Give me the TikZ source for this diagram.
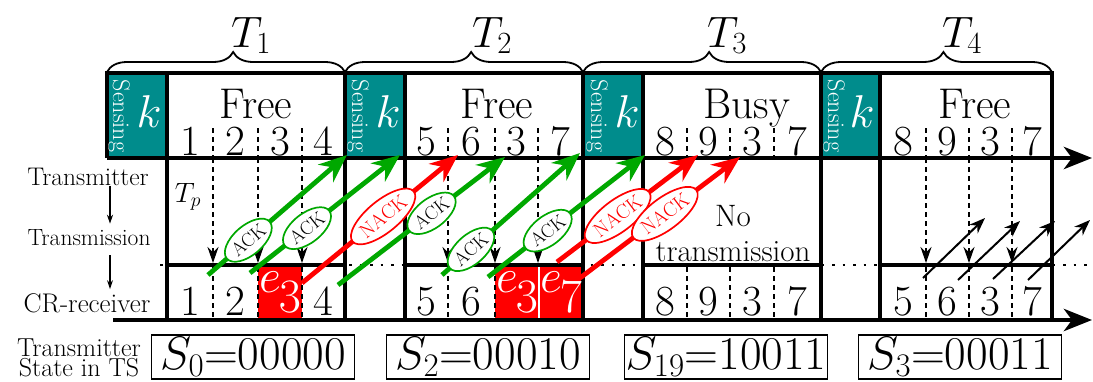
\RequirePackage{fix-cm}
\documentclass[tikz,border=0pt]{standalone}
\usepackage{fontspec}
\usetikzlibrary{arrows.meta,decorations.pathreplacing,shapes.geometric}

\definecolor{senseteal}{RGB}{0,140,140}
\definecolor{ackgreen}{RGB}{0,168,0}
\definecolor{nackred}{RGB}{255,0,0}

\newcommand{\fsz}[1]{\fontsize{#1}{#1}\selectfont}

\tikzset{
  ts-frame/.style={line width=4.5pt, draw=black},
  ts-axis/.style={-{Stealth[length=28pt, width=22pt, inset=8pt]}, line width=4.8pt},
  ts-sense/.style={fill=senseteal, draw=none},
  ts-err/.style={fill=nackred, draw=none},
  ts-sep/.style={dash pattern=on 5pt off 4pt, line width=1.8pt},
  ts-drop/.style={ts-sep, -{Stealth[length=16pt, width=11pt]}},
  ts-dots/.style={dash pattern=on 2.5pt off 8pt, line width=2pt},
  ts-ack/.style={-{Stealth[length=28pt, width=23pt]}, line width=4.8pt, draw=ackgreen},
  ts-nack/.style={-{Stealth[length=28pt, width=23pt]}, line width=4.8pt, draw=nackred},
  ts-fb/.style={-{Stealth[length=16pt, width=12pt]}, line width=2pt},
  ts-acklbl/.style={ellipse, draw=ackgreen, fill=white, line width=1.7pt, inner xsep=0.5pt, inner ysep=3.5pt, font=\fsz{19}, sloped},
  ts-nacklbl/.style={ellipse, draw=nackred, fill=white, text=nackred, line width=1.7pt, inner xsep=0.5pt, inner ysep=4pt, font=\fsz{20}, sloped},
  ts-num/.style={font=\fsz{43}, inner sep=0pt, anchor=base},
  ts-errtxt/.style={text=white, font=\fsz{48}, inner sep=0pt, anchor=base},
  ts-period/.style={font=\fsz{44}, inner sep=0pt, anchor=base},
  ts-state/.style={font=\fsz{47}, rectangle, draw, line width=1.8pt, minimum width=203pt, minimum height=44pt, inner sep=0pt},
  ts-sensetxt/.style={text=white, rotate=-90, font=\fsz{24}, inner sep=0pt},
  ts-k/.style={text=white, font=\fsz{46}, inner sep=0pt, anchor=base},
  ts-side/.style={inner sep=0pt},
  ts-side-arrow/.style={-{Stealth[length=9pt, width=6pt]}, line width=1.3pt},
  ts-brace/.style={decorate, decoration={brace, amplitude=20pt, aspect=0.53}, line width=1.8pt},
}

\newcommand{\errslot}[1]{$e\kern-2pt\raisebox{-0.42em}{$#1$}$}

\begin{document}
\begin{tikzpicture}[x=1pt, y=-1pt]
    \useasboundingbox (0,0) rectangle (1093,381);

    % Fills: sensing parts and erroneous slots
    \fill[ts-sense] (107,73) rectangle (167,158);
    \fill[ts-sense] (345,73) rectangle (405,158);
    \fill[ts-sense] (583,73) rectangle (643,158);
    \fill[ts-sense] (821,73) rectangle (880,158);
    \fill[ts-err] (258,265) rectangle (302,320);
    \fill[ts-err] (495,265) rectangle (538,320);
    \fill[ts-err] (540,265) rectangle (583,320);

    % Receiver level (dotted through the sensing parts)
    \draw[ts-dots] (160,265) -- (1090,265);

    % Slot separators: top row and receiver row
    \draw[ts-sep] (213,128) -- (213,156) (258,128) -- (258,156) (302,128) -- (302,156);
    \draw[ts-sep] (448,128) -- (448,156) (495,128) -- (495,156) (538,128) -- (538,156);
    \draw[ts-sep] (687,128) -- (687,156) (730,128) -- (730,156) (774,128) -- (774,156);
    \draw[ts-sep] (926,128) -- (926,156) (969,128) -- (969,156) (1012,128) -- (1012,156);
    \draw[ts-sep] (213,267) -- (213,318) (258,267) -- (258,318) (302,267) -- (302,318);
    \draw[ts-sep] (448,267) -- (448,318) (495,267) -- (495,318);
    \draw[ts-sep] (687,267) -- (687,318) (730,267) -- (730,318) (774,267) -- (774,318);
    \draw[ts-sep] (926,267) -- (926,318) (969,267) -- (969,318) (1012,267) -- (1012,318);

    % Dashed drops from transmitter to receiver
    \draw[ts-drop] (213,158) -- (213,263);
    \draw[ts-drop] (258,158) -- (258,263);
    \draw[ts-drop] (302,158) -- (302,263);
    \draw[ts-drop] (448,158) -- (448,263);
    \draw[ts-drop] (495,158) -- (495,263);
    \draw[ts-drop] (538,158) -- (538,263);
    \draw[ts-drop] (926,158) -- (926,263);
    \draw[ts-drop] (969,158) -- (969,263);
    \draw[ts-drop] (1012,158) -- (1012,263);

    % Frame
    \draw[ts-frame] (107,158) -- (107,73) -- (1052,73) -- (1052,320);
    \draw[ts-frame] (167,73) -- (167,320);
    \draw[ts-frame] (345,73) -- (345,320);
    \draw[ts-frame] (405,73) -- (405,320);
    \draw[ts-frame] (583,73) -- (583,320);
    \draw[ts-frame] (643,73) -- (643,320);
    \draw[ts-frame] (821,73) -- (821,320);
    \draw[ts-frame] (880,73) -- (880,320);
    \draw[ts-frame] (167,265) -- (345,265);
    \draw[ts-frame] (405,265) -- (583,265);
    \draw[ts-frame] (643,265) -- (821,265);
    \draw[ts-frame] (880,265) -- (1052,265);

    % Time axes
    \draw[ts-axis] (107,158) -- (1092,158);
    \draw[ts-axis] (113,320) -- (1092,320);

    % Periods
    \draw[ts-brace] (107,72) -- (345,72);
    \draw[ts-brace] (345,72) -- (583,72);
    \draw[ts-brace] (583,72) -- (821,72);
    \draw[ts-brace] (821,72) -- (1052,72);
    \node[ts-period] (per1) at (251,47) {$T_1$};
    \node[ts-period] (per2) at (492,47) {$T_2$};
    \node[ts-period] (per3) at (727,47) {$T_3$};
    \node[ts-period] (per4) at (962,47) {$T_4$};

    % Sensing parts
    \node[ts-sensetxt] (sen1) at (119,116) {Sensing};
    \node[ts-sensetxt] (sen2) at (358,116) {Sensing};
    \node[ts-sensetxt] (sen3) at (597,116) {Sensing};
    \node[ts-sensetxt] (sen4) at (834,116) {Sensing};
    \node[ts-k] (k1) at (149,127) {$k$};
    \node[ts-k] (k2) at (388,127) {$k$};
    \node[ts-k] (k3) at (627,127) {$k$};
    \node[ts-k] (k4) at (862,127) {$k$};

    % Channel state
    \node[ts-num] (st1) at (256,118) {Free};
    \node[ts-num] (st2) at (497,118) {Free};
    \node[ts-num] (st3) at (747,118) {Busy};
    \node[ts-num] (st4) at (975,118) {Free};

    % Transmitted slots
    \node[ts-num] (tx11) at (190,155) {1};
    \node[ts-num] (tx12) at (235,155) {2};
    \node[ts-num] (tx13) at (280,155) {3};
    \node[ts-num] (tx14) at (323,155) {4};
    \node[ts-num] (tx21) at (426,155) {5};
    \node[ts-num] (tx22) at (471,155) {6};
    \node[ts-num] (tx23) at (516,155) {3};
    \node[ts-num] (tx24) at (560,155) {7};
    \node[ts-num] (tx31) at (665,155) {8};
    \node[ts-num] (tx32) at (708,155) {9};
    \node[ts-num] (tx33) at (752,155) {3};
    \node[ts-num] (tx34) at (797,155) {7};
    \node[ts-num] (tx41) at (903,155) {8};
    \node[ts-num] (tx42) at (947,155) {9};
    \node[ts-num] (tx43) at (990,155) {3};
    \node[ts-num] (tx44) at (1032,155) {7};

    % Received slots
    \node[ts-num] (rx11) at (190,315) {1};
    \node[ts-num] (rx12) at (235,315) {2};
    \node[ts-errtxt] (rx13) at (280,292) {\errslot{3}};
    \node[ts-num] (rx14) at (323,315) {4};
    \node[ts-num] (rx21) at (426,315) {5};
    \node[ts-num] (rx22) at (471,315) {6};
    \node[ts-errtxt] (rx23) at (517,292) {\errslot{3}};
    \node[ts-errtxt] (rx24) at (561,292) {\errslot{7}};
    \node[ts-num] (rx31) at (665,315) {8};
    \node[ts-num] (rx32) at (708,315) {9};
    \node[ts-num] (rx33) at (752,315) {3};
    \node[ts-num] (rx34) at (797,315) {7};
    \node[ts-num] (rx41) at (903,315) {5};
    \node[ts-num] (rx42) at (947,315) {6};
    \node[ts-num] (rx43) at (990,315) {3};
    \node[ts-num] (rx44) at (1032,315) {7};

    \node[ts-side, font=\fsz{28}, anchor=base] (tp) at (188,202) {$T_p$};
    \node[ts-side, font=\fontsize{31}{35}\selectfont, align=center, anchor=north] (notx) at (733,205) {No\\transmission};

    % Feedback ends
    \coordinate (fa1) at (208,275);  \coordinate (fz1) at (347,155);
    \coordinate (fa2) at (250,273);  \coordinate (fz2) at (400,155);
    \coordinate (fa3) at (302,283);  \coordinate (fz3) at (458,155);
    \coordinate (fa4) at (338,285);  \coordinate (fz4) at (505,157);
    \coordinate (fa5) at (442,275);  \coordinate (fz5) at (580,153);
    \coordinate (fa6) at (488,277);  \coordinate (fz6) at (645,155);
    \coordinate (fa7) at (557,262);  \coordinate (fz7) at (698,155);
    \coordinate (fa8) at (580,278);  \coordinate (fz8) at (740,157);

    % Feedback arrows
    \draw[ts-ack]  (fa1) -- node[ts-acklbl, pos=0.29] (fb1) {ACK} (fz1);
    \draw[ts-ack]  (fa2) -- node[ts-acklbl, pos=0.38] (fb2) {ACK} (fz2);
    \draw[ts-nack] (fa3) -- node[ts-nacklbl, pos=0.52] (fb3) {NACK} (fz3);
    \draw[ts-ack]  (fa4) -- node[ts-acklbl, pos=0.56] (fb4) {ACK} (fz4);
    \draw[ts-ack]  (fa5) -- node[ts-acklbl, pos=0.21] (fb5) {ACK} (fz5);
    \draw[ts-ack]  (fa6) -- node[ts-acklbl, pos=0.38] (fb6) {ACK} (fz6);
    \draw[ts-nack] (fa7) -- node[ts-nacklbl, pos=0.43] (fb7) {NACK} (fz7);
    \draw[ts-nack] (fa8) -- node[ts-nacklbl, pos=0.53] (fb8) {NACK} (fz8);

    % Feedback in T4
    \coordinate (ba1) at (923,278);  \coordinate (bz1) at (985,218);
    \coordinate (ba2) at (958,280);  \coordinate (bz2) at (1020,221);
    \coordinate (ba3) at (993,279);  \coordinate (bz3) at (1055,221);
    \coordinate (ba4) at (1028,280); \coordinate (bz4) at (1090,220);
    \draw[ts-fb] (ba1) -- (bz1);
    \draw[ts-fb] (ba2) -- (bz2);
    \draw[ts-fb] (ba3) -- (bz3);
    \draw[ts-fb] (ba4) -- (bz4);

    % Left labels
    \node[ts-side, font=\fsz{25.5}] (ltx) at (88,177) {Transmitter};
    \node[ts-side, font=\fsz{23.5}] (ltm) at (89,238) {Transmission};
    \node[ts-side, font=\fsz{27}] (lrx) at (87,303) {CR-receiver};
    \draw[ts-side-arrow, shorten >=6pt] ([xshift=22pt]ltx.south) -- ([xshift=21pt]ltm.north);
    \draw[ts-side-arrow, shorten <=9pt, shorten >=4pt] ([xshift=21pt]ltm.south) -- ([xshift=23pt]lrx.north);

    % Transmitter states
    \node[ts-side, font=\fontsize{26}{20}\selectfont, align=center, anchor=north] (lstate) at (79,339) {Transmitter\\State in TS};
    \node[ts-state] (s1) at (253,357) {$S_0$=00000};
    \node[ts-state] (s2) at (488,357) {$S_2$=00010};
    \node[ts-state] (s3) at (726,357) {$S_{19}$=10011};
    \node[ts-state] (s4) at (960,357) {$S_3$=00011};

\end{tikzpicture}
\end{document}
